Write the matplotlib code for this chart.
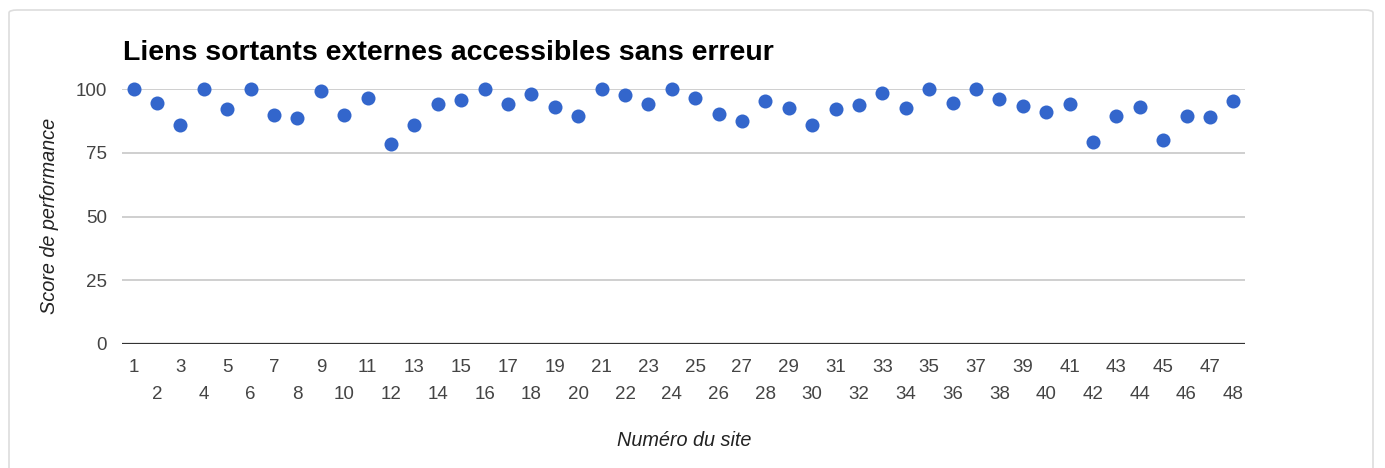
import matplotlib
matplotlib.use("Agg")
import matplotlib.pyplot as plt
from matplotlib.patches import FancyBboxPatch
import numpy as np

plt.rcParams['font.family'] = ['Liberation Sans', 'DejaVu Sans']

sites = list(range(1, 49))
scores = [100, 94.4, 85.8, 100, 92.1, 100, 89.9, 88.5, 99.1, 89.8,
          96.6, 78.5, 86.0, 94.3, 95.6, 100, 94.2, 97.9, 93.0, 89.6,
          100, 97.8, 94.0, 100, 96.4, 90.1, 87.4, 95.4, 92.6, 86.0,
          92.3, 93.9, 98.3, 92.5, 100, 94.6, 100, 95.9, 93.4, 91.0,
          94.2, 79.1, 89.3, 92.9, 79.9, 89.6, 89.0, 95.4]
y_ticks = [0, 25, 50, 75, 100]

title = "Liens sortants externes accessibles sans erreur"
x_label = "Numéro du site"
y_label = "Score de performance"

W, H = 1385, 468
fig = plt.figure(figsize=(W / 100, H / 100), dpi=100)

# light rounded frame around the chart
frame = FancyBboxPatch((9 / W, -0.05), (1373 - 9) / W, (H - 10) / H + 0.05,
                       boxstyle="round,pad=0,rounding_size=0.006",
                       transform=fig.transFigure, facecolor="none",
                       edgecolor="#dddddd", linewidth=1.2, zorder=-1)
fig.patches.append(frame)

left, right, top, bottom = 122, 1245, 89, 344
ax = fig.add_axes([left / W, 1 - bottom / H, (right - left) / W, (bottom - top) / H])
ax.set_facecolor("none")

ax.scatter(sites, scores, s=14 ** 2 * 0.52, color="#3366cc", zorder=3,
           clip_on=False, linewidths=0)

ax.set_xlim(0.5, 48.5)
ax.set_ylim(0, 100)
ax.set_yticks(y_ticks)
for v in y_ticks[1:]:
    ax.axhline(v, color="#cccccc", lw=1.3, zorder=1)
ax.axhline(0, color="#333333", lw=1.6, zorder=2)

for s in ax.spines.values():
    s.set_visible(False)

ax.set_xticks([s for s in sites if s % 2 == 1])
ax.set_xticks([s for s in sites if s % 2 == 0], minor=True)
ax.set_xticklabels([str(s) for s in sites if s % 2 == 1])
ax.set_xticklabels([str(s) for s in sites if s % 2 == 0], minor=True)
ax.tick_params(axis="x", which="major", length=0, pad=11, labelsize=13.5, labelcolor="#444444")
ax.tick_params(axis="x", which="minor", length=0, pad=30, labelsize=13.5, labelcolor="#444444")
ax.tick_params(axis="y", length=0, pad=10.8, labelsize=13.5, labelcolor="#444444")

fig.text(123 / W, 1 - 53 / H, title, fontsize=20.5, fontweight="bold",
         ha="left", va="center", color="#000000")
fig.text(684 / W, 1 - 440 / H, x_label, fontsize=14.3, style="italic",
         ha="center", va="center", color="#222222")
fig.text(50 / W, 1 - 216 / H, y_label, fontsize=14.3, style="italic",
         ha="center", va="center", rotation=90, color="#222222")

fig.savefig("out.png", dpi=100)
